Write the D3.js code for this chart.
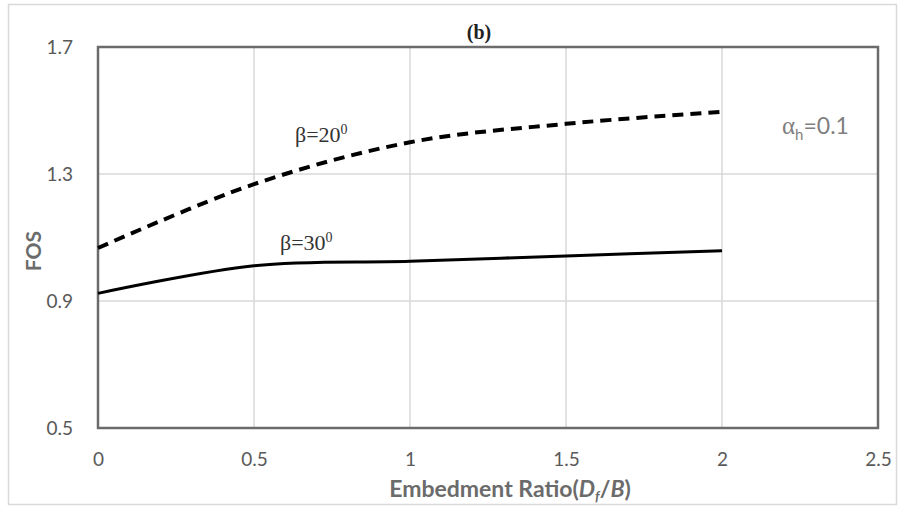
<!DOCTYPE html>
<html>
<head>
<meta charset="utf-8">
<script src="https://cdn.jsdelivr.net/npm/d3@7"></script>
<style>
  body { margin: 0; background: #fff; }
  svg { display: block; }
</style>
</head>
<body>
<svg id="chart" width="900" height="506"></svg>
<script>
// ---- data ----
const xValues = [0, 0.5, 1, 1.5, 2];
const beta20 = [1.067, 1.268, 1.400, 1.458, 1.496];
const beta30 = [0.924, 1.011, 1.025, 1.042, 1.058];
const xTicks = [0, 0.5, 1, 1.5, 2, 2.5];
const yTicks = [0.5, 0.9, 1.3, 1.7];
const seriesNames = ["β=20", "β=30"];

const svg = d3.select("#chart");
const margin = { left: 98, right: 22, top: 47, bottom: 78 };
const W = 900, H = 506;
const x = d3.scaleLinear().domain([0, 2.5]).range([margin.left, W - margin.right]);
const y = d3.scaleLinear().domain([0.5, 1.7]).range([H - margin.bottom, margin.top]);
const sans = "Lato, 'Open Sans', sans-serif";
const serif = "'Liberation Serif', 'Times New Roman', 'DejaVu Serif', serif";

// outer frame
svg.append("rect").attr("x", 8.5).attr("y", 4.5).attr("width", 888).attr("height", 500)
  .attr("fill", "#fff").attr("stroke", "#d9d9d9").attr("stroke-width", 1.5);

// gridlines
svg.append("g").selectAll("line").data(xTicks.slice(1, -1)).join("line")
  .attr("x1", d => x(d)).attr("x2", d => x(d))
  .attr("y1", y(0.5)).attr("y2", y(1.7))
  .attr("stroke", "#d9d9d9").attr("stroke-width", 1.5);
svg.append("g").selectAll("line").data(yTicks.slice(1, -1)).join("line")
  .attr("x1", x(0)).attr("x2", x(2.5))
  .attr("y1", d => y(d)).attr("y2", d => y(d))
  .attr("stroke", "#d9d9d9").attr("stroke-width", 1.5);

// axes (labels only)
const xAxis = d3.axisBottom(x).tickValues(xTicks).tickSize(0).tickPadding(25).tickFormat(d3.format("~g"));
const gx = svg.append("g").attr("transform", `translate(0,${y(0.5)})`).call(xAxis);
gx.select(".domain").remove();
gx.selectAll("text").attr("font-family", sans).attr("font-size", 19).attr("fill", "#595959");

const yAxis = d3.axisLeft(y).tickValues(yTicks).tickSize(0).tickPadding(25).tickFormat(d3.format(".1f"));
const gy = svg.append("g").attr("transform", `translate(${x(0)},0)`).call(yAxis);
gy.select(".domain").remove();
gy.selectAll("text").attr("font-family", sans).attr("font-size", 19).attr("fill", "#595959");

// plot border
svg.append("rect").attr("x", x(0)).attr("y", y(1.7))
  .attr("width", x(2.5) - x(0)).attr("height", y(0.5) - y(1.7))
  .attr("fill", "none").attr("stroke", "#6b6b6b").attr("stroke-width", 2.5);

// lines
const line = d3.line().x((d, i) => x(xValues[i])).y(d => y(d)).curve(d3.curveCardinal.tension(0));
svg.append("path").datum(beta20).attr("d", line)
  .attr("fill", "none").attr("stroke", "#000").attr("stroke-width", 4)
  .attr("stroke-dasharray", "11,7");
svg.append("path").datum(beta30).attr("d", line)
  .attr("fill", "none").attr("stroke", "#000").attr("stroke-width", 3);

// series labels
function betaLabel(name, px, py) {
  const t = svg.append("text").attr("x", px).attr("y", py)
    .attr("font-family", serif).attr("font-size", 22).attr("fill", "#333");
  t.append("tspan").text(name);
  t.append("tspan").attr("dy", -8).attr("font-size", 14).text("0");
}
betaLabel(seriesNames[0], 295, 142);
betaLabel(seriesNames[1], 280, 250);

// alpha label
const a = svg.append("text").attr("x", 782).attr("y", 134)
  .attr("font-family", sans).attr("font-size", 23).attr("fill", "#7f7f7f");
a.append("tspan").attr("font-family", serif).attr("font-size", 25).text("α");
a.append("tspan").attr("dy", 6).attr("font-size", 15).text("h");
a.append("tspan").attr("dy", -6).text("=0.1");

// title
svg.append("text").attr("x", 479).attr("y", 39).attr("text-anchor", "middle")
  .attr("font-family", serif).attr("font-weight", "bold").attr("font-size", 20)
  .attr("fill", "#222").text("(b)");

// axis titles
const xt = svg.append("text").attr("x", 510).attr("y", 497).attr("text-anchor", "middle")
  .attr("font-family", sans).attr("font-weight", "bold").attr("font-size", 23).attr("fill", "#6b6b6b");
xt.append("tspan").text("Embedment Ratio(");
xt.append("tspan").attr("font-style", "italic").text("D");
xt.append("tspan").attr("font-style", "italic").attr("font-size", 14).attr("dy", 4).text("f");
xt.append("tspan").attr("dy", -4).text("/");
xt.append("tspan").attr("font-style", "italic").text("B");
xt.append("tspan").text(")");

svg.append("text").attr("transform", "translate(41,251) rotate(-90)").attr("text-anchor", "middle")
  .attr("font-family", sans).attr("font-weight", "bold").attr("font-size", 21).attr("fill", "#6b6b6b")
  .text("FOS");
</script>
</body>
</html>
